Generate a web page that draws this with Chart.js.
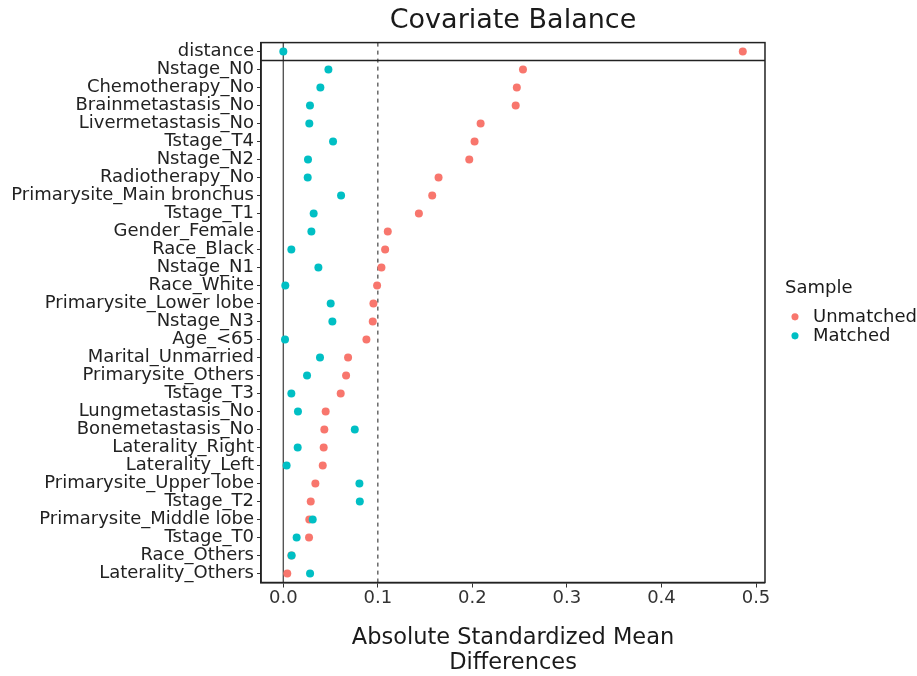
<!DOCTYPE html>
<html>
<head>
<meta charset="utf-8">
<script src="https://cdn.jsdelivr.net/npm/chart.js@4"></script>
<style>
  body { margin: 0; background: #fff; }
  #wrap { width: 917px; height: 676px; }
</style>
</head>
<body>
<div id="wrap"><canvas id="myChart" width="917" height="676"></canvas></div>
<script>
const covariates = [
  'distance', 'Nstage_N0', 'Chemotherapy_No', 'Brainmetastasis_No', 'Livermetastasis_No',
  'Tstage_T4', 'Nstage_N2', 'Radiotherapy_No', 'Primarysite_Main bronchus', 'Tstage_T1',
  'Gender_Female', 'Race_Black', 'Nstage_N1', 'Race_White', 'Primarysite_Lower lobe',
  'Nstage_N3', 'Age_<65', 'Marital_Unmarried', 'Primarysite_Others', 'Tstage_T3',
  'Lungmetastasis_No', 'Bonemetastasis_No', 'Laterality_Right', 'Laterality_Left',
  'Primarysite_Upper lobe', 'Tstage_T2', 'Primarysite_Middle lobe', 'Tstage_T0',
  'Race_Others', 'Laterality_Others'
];
const unmatched = [
  0.486, 0.2535, 0.247, 0.2458, 0.2087,
  0.2023, 0.1967, 0.1642, 0.1575, 0.1434,
  0.1105, 0.1077, 0.1038, 0.0992, 0.0953,
  0.0946, 0.0879, 0.0685, 0.0664, 0.0607,
  0.0448, 0.0434, 0.0427, 0.0417,
  0.0339, 0.0290, 0.0275, 0.0272,
  0.0085, 0.0042
];
const matched = [
  0.0, 0.0477, 0.0392, 0.0282, 0.0275,
  0.0526, 0.0261, 0.0258, 0.0611, 0.0321,
  0.0297, 0.0085, 0.0371, 0.0021, 0.0501,
  0.0519, 0.0018, 0.0388, 0.0251, 0.0085,
  0.0155, 0.0756, 0.0152, 0.0035,
  0.0805, 0.0809, 0.0311, 0.0141,
  0.0088, 0.0283
];
const xTicks = [0, 0.1, 0.2, 0.3, 0.4, 0.5];
const threshold = 0.1;

const textColor = '#1a1a1a';

// reference lines + panel border
const refLines = {
  id: 'refLines',
  beforeDatasetsDraw(chart) {
    const {ctx, chartArea: a, scales: {x, y}} = chart;
    ctx.save();
    // zero line
    ctx.strokeStyle = '#555';
    ctx.lineWidth = 1.4;
    ctx.beginPath();
    ctx.moveTo(x.getPixelForValue(0), a.top);
    ctx.lineTo(x.getPixelForValue(0), a.bottom);
    ctx.stroke();
    // threshold
    ctx.strokeStyle = '#333';
    ctx.lineWidth = 1.1;
    ctx.setLineDash([4, 4]);
    ctx.beginPath();
    ctx.moveTo(x.getPixelForValue(threshold), a.top);
    ctx.lineTo(x.getPixelForValue(threshold), a.bottom);
    ctx.stroke();
    ctx.setLineDash([]);
    // separator between distance and covariates
    const ySep = (y.getPixelForValue(0) + y.getPixelForValue(1)) / 2;
    ctx.strokeStyle = '#222';
    ctx.lineWidth = 1.5;
    ctx.beginPath();
    ctx.moveTo(a.left, ySep);
    ctx.lineTo(a.right, ySep);
    ctx.stroke();
    ctx.restore();
  },
  afterDatasetsDraw(chart) {
    const {ctx, chartArea: a} = chart;
    ctx.save();
    ctx.strokeStyle = '#222';
    ctx.lineWidth = 1.5;
    ctx.strokeRect(a.left, a.top, a.right - a.left, a.bottom - a.top);
    ctx.restore();
  }
};

const data = {
  datasets: [
    {
      label: 'Unmatched',
      data: unmatched.map((v, i) => ({x: v, y: covariates[i]})),
      backgroundColor: '#F8766D',
      borderWidth: 0,
      pointRadius: 4,
      order: 2
    },
    {
      label: 'Matched',
      data: matched.map((v, i) => ({x: v, y: covariates[i]})),
      backgroundColor: '#00BFC4',
      borderWidth: 0,
      pointRadius: 4,
      order: 1
    }
  ]
};

const config = {
  type: 'scatter',
  data,
  options: {
    responsive: false,
    animation: false,
    layout: { padding: { top: 0, right: -10, bottom: 0, left: 0 } },
    scales: {
      x: {
        type: 'linear',
        min: -0.0236,
        max: 0.5095,
        afterBuildTicks: (scale) => { scale.ticks = xTicks.map(v => ({value: v})); },
        afterFit: (scale) => { scale.height = 93.5; },
        grid: { drawOnChartArea: false, tickLength: 5, color: '#333', lineWidth: 1 },
        border: { display: true, color: '#222', width: 1.5 },
        ticks: {
          color: '#333',
          font: { family: 'DejaVu Sans', size: 18 },
          padding: 0,
          callback: (v) => Number(v).toFixed(1)
        },
        title: {
          display: true,
          text: ['Absolute Standardized Mean', 'Differences'],
          color: textColor,
          font: { family: 'DejaVu Sans', size: 22.5, lineHeight: 1.12 },
          padding: { top: 0, bottom: 0 }
        }
      },
      y: {
        type: 'category',
        labels: covariates,
        offset: true,
        afterFit: (scale) => { scale.width = 261; },
        grid: { drawOnChartArea: false, tickLength: 4, color: '#333', lineWidth: 1, offset: false },
        border: { display: true, color: '#222', width: 1.5 },
        ticks: {
          color: '#222',
          font: { family: 'DejaVu Sans', size: 18 },
          padding: 3,
          autoSkip: false
        }
      },
      // empty spacer between panel and legend
      gap: {
        type: 'linear',
        position: 'right',
        display: true,
        afterFit: (scale) => { scale.width = 20; },
        grid: { display: false },
        border: { display: false },
        ticks: { display: false }
      }
    },
    plugins: {
      title: {
        display: true,
        text: 'Covariate Balance',
        fullSize: false,
        color: textColor,
        font: { family: 'DejaVu Sans', size: 27, weight: 'normal' },
        padding: { top: 5, bottom: 5.2 }
      },
      legend: {
        position: 'right',
        align: 'center',
        fullSize: false,
        title: {
          display: true,
          text: 'Sample',
          position: 'start',
          color: textColor,
          font: { family: 'DejaVu Sans', size: 18 },
          padding: { top: 0, bottom: 6 }
        },
        labels: {
          usePointStyle: true,
          pointStyle: 'circle',
          boxWidth: 20,
          boxHeight: 5,
          color: textColor,
          font: { family: 'DejaVu Sans', size: 18 },
          padding: 1,
          sort: (a, b) => a.datasetIndex - b.datasetIndex
        }
      },
      tooltip: { enabled: false }
    }
  },
  plugins: [refLines]
};

const myChart = new Chart(document.getElementById('myChart'), config);
</script>
</body>
</html>
